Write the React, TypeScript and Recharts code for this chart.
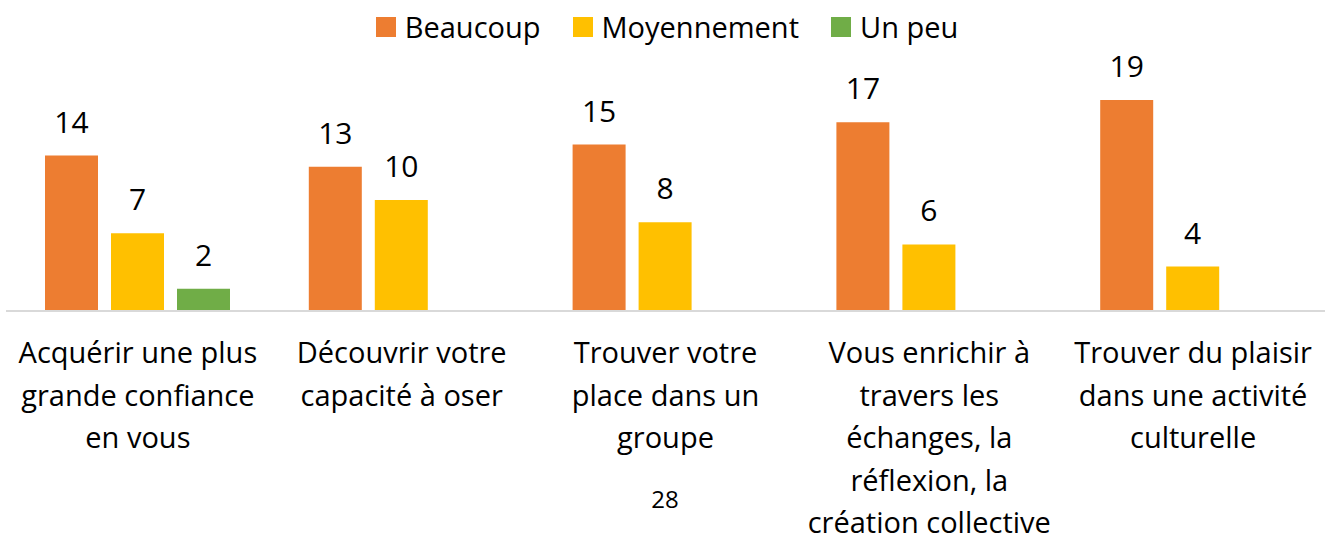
import { BarChart, Bar, XAxis, YAxis, LabelList, Legend } from 'recharts';

const categories = [
  'Acquérir une plus grande confiance en vous',
  'Découvrir votre capacité à oser',
  'Trouver votre place dans un groupe',
  'Vous enrichir à travers les échanges, la réflexion, la création collective',
  'Trouver du plaisir dans une activité culturelle',
];

// tick labels as they wrap in the original
const categoryLines = [
  ['Acquérir une plus', 'grande confiance', 'en vous'],
  ['Découvrir votre', 'capacité à oser'],
  ['Trouver votre', 'place dans un', 'groupe'],
  ['Vous enrichir à', 'travers les', 'échanges, la', 'réflexion, la', 'création collective'],
  ['Trouver du plaisir', 'dans une activité', 'culturelle'],
];

const beaucoup = [14, 13, 15, 17, 19];
const moyennement = [7, 10, 8, 6, 4];
const unPeu = [2, null, null, null, null];

const SERIES = [
  { key: 'beaucoup', name: 'Beaucoup', color: '#ED7D31' },
  { key: 'moyennement', name: 'Moyennement', color: '#FFC000' },
  { key: 'unPeu', name: 'Un peu', color: '#70AD47' },
];

const FONT = '"Open Sans", Lato, sans-serif';

const data = categories.map((name, i) => ({
  name,
  beaucoup: beaucoup[i],
  moyennement: moyennement[i],
  unPeu: unPeu[i],
}));

function CategoryTick({ x, y, index }: any) {
  const lines = categoryLines[index] || [];
  return (
    <text x={x} y={y} textAnchor="middle" fill="#000" fontSize={29} fontFamily={FONT}>
      {lines.map((l, i) => (
        <tspan key={i} x={x} y={y + 44 + i * 42.5}>
          {l}
        </tspan>
      ))}
    </text>
  );
}

function LegendContent() {
  return (
    <div style={{ display: 'flex', justifyContent: 'center', gap: 32, fontFamily: FONT, fontSize: 29 }}>
      {SERIES.map((s) => (
        <div key={s.key} style={{ display: 'flex', alignItems: 'center' }}>
          <span style={{ width: 20, height: 20, background: s.color, marginRight: 9, display: 'inline-block' }} />
          <span style={{ color: '#000', lineHeight: '36px' }}>{s.name}</span>
        </div>
      ))}
    </div>
  );
}

export default function App() {
  return (
    <div style={{ position: 'absolute', left: 0, top: 0, width: 1334, height: 540, background: '#fff' }}>
      <BarChart
        width={1334}
        height={540}
        data={data}
        margin={{ top: 89, right: 9, bottom: 0, left: 6 }}
        barSize={53}
        barGap={13}
      >
        <XAxis
          dataKey="name"
          height={229}
          tickLine={false}
          axisLine={{ stroke: '#D9D9D9', strokeWidth: 2 }}
          interval={0}
          tick={<CategoryTick />}
        />
        <YAxis hide domain={[0, 20]} />
        <Legend
          verticalAlign="middle"
          align="center"
          wrapperStyle={{ top: 9, left: 0, width: 1334 }}
          content={<LegendContent />}
        />
        {SERIES.map((s) => (
          <Bar key={s.key} dataKey={s.key} name={s.name} fill={s.color} isAnimationActive={false}>
            <LabelList dataKey={s.key} position="top" offset={23} fill="#000" fontSize={30} fontFamily={FONT} />
          </Bar>
        ))}
      </BarChart>
      <div
        style={{
          position: 'absolute',
          left: 640,
          top: 482,
          width: 50,
          textAlign: 'center',
          fontFamily: '"Open Sans", sans-serif',
          fontSize: 24,
          fontWeight: 500,
          color: '#000',
        }}
      >
        28
      </div>
    </div>
  );
}
